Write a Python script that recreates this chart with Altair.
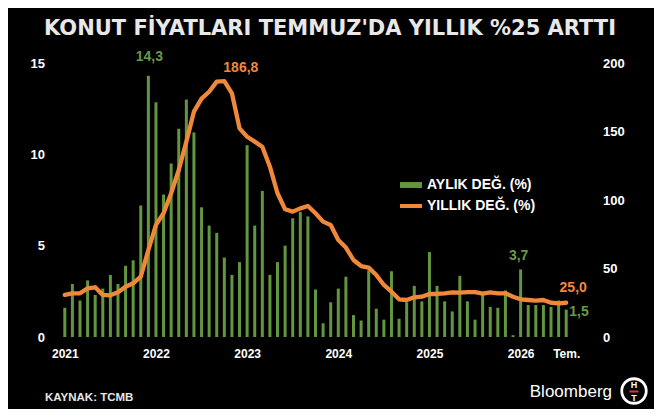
import altair as alt
import pandas as pd

# ---- data ----
months = list(range(67))  # Jan 2021 ... Jul 2026
monthly = [1.6, 2.9, 2.0, 3.1, 2.3, 2.65, 3.4, 2.9, 3.9, 4.2, 7.2, 14.3,
           12.85, 7.8, 9.5, 11.4, 13.0, 11.2, 7.1, 6.1, 5.7, 4.35, 3.4, 4.1,
           10.5, 6.1, 8.0, 3.4, 4.1, 5.0, 6.5, 6.85, 6.6, 2.6, 0.75, 1.9,
           2.65, 3.3, 1.2, 0.9, 3.65, 1.55, 0.95, 3.6, 1.0, 1.9, 2.8, 1.95,
           4.65, 2.8, 1.95, 1.4, 3.35, 1.95, 0.95, 2.3, 1.65, 1.6, 2.55, 0.1,
           3.7, 1.75, 1.75, 1.75, 1.65, 2.0, 1.5]
annual = [30.7, 31.9, 31.9, 35.5, 36.3, 30.7, 30.4, 32.6, 36.7, 39.2, 44.0, 63.5,
          81.8, 90.3, 104.9, 121.9, 142.6, 164.5, 174.0, 179.0, 186.4, 186.8, 177.9, 152.3,
          146.2, 142.6, 138.9, 124.3, 104.9, 93.2, 91.5, 93.9, 95.6, 90.3, 84.2, 81.8,
          70.8, 65.3, 56.2, 51.8, 50.6, 45.3, 38.0, 33.1, 27.5, 27.0, 29.0, 29.4,
          31.4, 31.4, 31.9, 32.6, 32.4, 32.8, 32.8, 31.6, 32.6, 31.9, 31.9, 29.4,
          27.5, 27.0, 26.5, 27.0, 25.0, 24.6, 25.0]
tick_values = [0, 12, 24, 36, 48, 60, 66]
tick_labels = ["2021", "2022", "2023", "2024", "2025", "2026", "Tem."]
left_ticks = [0, 5, 10, 15]
right_ticks = [0, 50, 100, 150, 200]
series_names = ["AYLIK DEĞ. (%)", "YILLIK DEĞ. (%)"]
title_text = "KONUT FİYATLARI TEMMUZ'DA YILLIK %25 ARTTI"
source_text = "KAYNAK: TCMB"

GREEN = "#62963f"
GREEN_TXT = "#679a45"
ORANGE = "#f0883a"
BOLD = "Liberation Sans"

df = pd.DataFrame({"i": months, "m": monthly, "a": annual,
                   "s1": series_names[0], "s2": series_names[1]})

label_expr = ""
for v, l in zip(tick_values, tick_labels):
    label_expr += f"datum.value == {v} ? '{l}' : "
label_expr += "''"

x_enc = alt.X("i:Q",
              scale=alt.Scale(domain=[-1.5, 67.5], nice=False, zero=False),
              axis=alt.Axis(values=tick_values, labelExpr=label_expr, title=None,
                            grid=False, domain=False, ticks=False, tickSize=0,
                            labelPadding=11, labelFont=BOLD, labelFontWeight="bold",
                            labelFontSize=12, labelColor="white", labelFlush=False,
                            labelOverlap=False))

y_left = alt.Y("m:Q", scale=alt.Scale(domain=[0, 15], nice=False),
               axis=alt.Axis(orient="left", values=left_ticks, title=None, grid=False,
                             domain=False, ticks=False, tickSize=0, labelPadding=4,
                             labelFont=BOLD, labelFontWeight="bold", labelFontSize=13,
                             labelColor="white"))
y_right = alt.Y("a:Q", scale=alt.Scale(domain=[0, 200], nice=False),
                axis=alt.Axis(orient="right", values=right_ticks, title=None, grid=False,
                              domain=False, ticks=False, tickSize=0, labelPadding=20,
                              labelFont=BOLD, labelFontWeight="bold", labelFontSize=13,
                              labelColor="white"))

bars = alt.Chart(df).mark_bar(size=3).encode(
    x=x_enc, y=y_left,
    fill=alt.Fill("s1:N", scale=alt.Scale(domain=[series_names[0]], range=[GREEN]),
                  legend=alt.Legend(orient="none", legendX=351.6, legendY=111, title=None,
                                    symbolType="M-1,-0.27L1,-0.27L1,0.27L-1,0.27Z",
                                    symbolSize=484, symbolStrokeWidth=0, labelOffset=5,
                                    padding=0, labelFont=BOLD, labelFontWeight="bold",
                                    labelFontSize=14, labelColor="white"))
)

line = alt.Chart(df).mark_line(strokeWidth=4.3, strokeJoin="round", strokeCap="round").encode(
    x=x_enc, y=y_right,
    stroke=alt.Stroke("s2:N", scale=alt.Scale(domain=[series_names[1]], range=[ORANGE]),
                      legend=alt.Legend(orient="none", legendX=349.6, legendY=130, title=None,
                                        symbolType="stroke", symbolSize=484,
                                        symbolStrokeWidth=4, labelOffset=3, padding=0,
                                        labelFont=BOLD, labelFontWeight="bold",
                                        labelFontSize=14, labelColor="white"))
)


def fmt(v):
    return f"{v:.1f}".replace(".", ",")


def ann(idx, col, values, color, align, baseline, dx, dy, yenc):
    d = pd.DataFrame({"i": [idx], col: [values[idx]], "t": [fmt(values[idx])]})
    return alt.Chart(d).mark_text(align=align, baseline=baseline, dx=dx, dy=dy,
                                  font=BOLD, fontWeight="bold", fontSize=14,
                                  color=color).encode(x=x_enc, y=yenc, text="t:N")


left = alt.layer(
    bars,
    ann(11, "m", monthly, GREEN_TXT, "center", "bottom", 1, -12, y_left),
    ann(60, "m", monthly, GREEN_TXT, "center", "bottom", -2, -6, y_left),
    ann(66, "m", monthly, GREEN_TXT, "left", "middle", 3, 2, y_left),
)
right = alt.layer(
    line,
    ann(21, "a", annual, ORANGE, "left", "bottom", -1, -6, y_right),
    ann(66, "a", annual, ORANGE, "center", "bottom", 7, -8, y_right),
)

src = alt.Chart(pd.DataFrame({"t": [source_text]})).mark_text(
    align="left", baseline="middle", font=BOLD, fontWeight="bold", fontSize=11.5,
    color="#e6e6e6").encode(x=alt.value(-3.4), y=alt.value(334.5), text="t:N")
bloom = alt.Chart(pd.DataFrame({"t": ["Bloomberg"]})).mark_text(
    align="right", baseline="alphabetic", font="Liberation Sans", fontSize=17,
    color="white").encode(x=alt.value(563.6), y=alt.value(334), text="t:N")
ring = alt.Chart(pd.DataFrame({"t": ["o"]})).mark_point(
    shape="circle", filled=False, size=600, stroke="white", strokeWidth=2.8, opacity=1
).encode(x=alt.value(585.6), y=alt.value(328))
logo_h = alt.Chart(pd.DataFrame({"t": ["H"]})).mark_text(
    align="center", baseline="middle", font=BOLD, fontWeight="bold", fontSize=9,
    color="white").encode(x=alt.value(585.6), y=alt.value(321.5), text="t:N")
logo_t = alt.Chart(pd.DataFrame({"t": ["T"]})).mark_text(
    align="center", baseline="middle", font=BOLD, fontWeight="bold", fontSize=9,
    color="white").encode(x=alt.value(585.6), y=alt.value(334.5), text="t:N")
logo_r = alt.Chart(pd.DataFrame({"t": ["r"]})).mark_rule(
    color="#d03a3a", strokeWidth=2).encode(x=alt.value(581), x2=alt.value(590.2),
                                           y=alt.value(328.5))

chart = alt.layer(left, right, src, bloom, ring, logo_h, logo_t, logo_r).resolve_scale(
    y="independent"
).properties(
    width=534.2, height=274,
    padding={"left": 40.4, "top": 55, "right": 71.4, "bottom": 72},
    autosize=alt.AutoSizeParams(type="none"),
    background="#000000",
    title=alt.TitleParams(title_text, font="DejaVu Sans", fontWeight="bold", fontSize=21,
                          color="#e8e8e8", anchor="middle", dx=14.5, offset=11),
).configure_view(strokeWidth=0)

chart.save("out.html", embed_options={"renderer": "svg", "actions": False})
